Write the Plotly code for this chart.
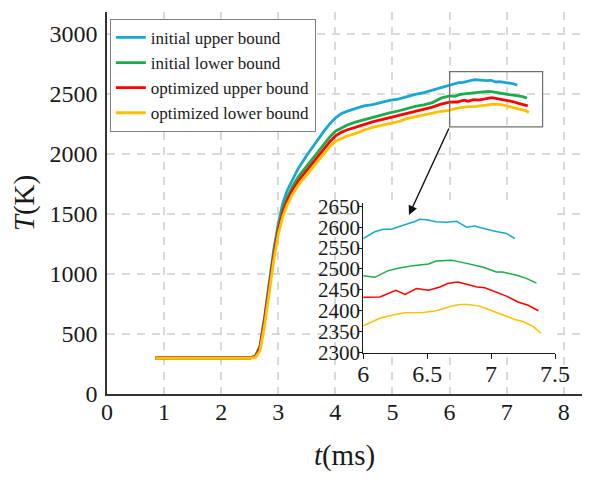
import plotly.graph_objects as go

# ---------------- data ----------------
series_names = ["initial upper bound", "initial lower bound",
                "optimized upper bound", "optimized lower bound"]
series_colors = ["#1AA8D0", "#1AAD4B", "#FF0000", "#FFC000"]

t_common = [0.85, 2.0, 2.5, 2.6, 2.68, 2.76, 2.84, 2.92, 3.0, 3.08, 3.16, 3.25,
            3.35, 3.5, 3.6, 3.7, 3.8, 3.9, 4.0, 4.1, 4.2, 4.35, 4.5, 4.65,
            4.8, 4.95, 5.1, 5.25, 5.4, 5.55, 5.7, 5.85]

init_upper_T_early = [300, 300, 302, 318, 400, 640, 930, 1200, 1420, 1590, 1700, 1790,
                      1880, 1990, 2060, 2125, 2190, 2250, 2300, 2335, 2355, 2378, 2400, 2412,
                      2432, 2446, 2458, 2480, 2497, 2512, 2532, 2555]
init_lower_T_early = [300, 300, 300, 314, 390, 620, 900, 1170, 1385, 1540, 1640, 1730,
                      1810, 1900, 1960, 2020, 2080, 2140, 2190, 2215, 2240, 2265, 2285, 2305,
                      2325, 2342, 2358, 2380, 2396, 2410, 2428, 2465]
opt_upper_T_early = [300, 300, 300, 312, 385, 610, 890, 1150, 1365, 1515, 1615, 1700,
                     1775, 1865, 1925, 1980, 2045, 2100, 2150, 2180, 2200, 2225, 2245, 2268,
                     2285, 2300, 2318, 2340, 2355, 2368, 2390, 2415]
opt_lower_T_early = [298, 298, 298, 305, 360, 570, 850, 1110, 1330, 1480, 1580, 1665,
                     1740, 1830, 1890, 1945, 2005, 2060, 2105, 2130, 2150, 2170, 2200, 2222,
                     2238, 2250, 2270, 2295, 2312, 2325, 2340, 2355]

# late part (t >= 6)
init_upper_t_late = [6.0, 6.09, 6.156, 6.22, 6.29, 6.365, 6.40, 6.44, 6.495, 6.57, 6.65,
                     6.73, 6.77, 6.81, 6.87, 6.94, 7.02, 7.12, 7.185]
init_upper_T_late = [2573, 2589, 2595, 2595, 2603, 2610, 2613, 2619, 2618, 2613, 2612,
                     2614, 2607, 2600, 2603, 2597, 2591, 2585, 2573]

init_lower_t_late = [6.0, 6.09, 6.195, 6.29, 6.39, 6.51, 6.57, 6.69, 6.755, 6.86, 6.94,
                     7.04, 7.09, 7.2, 7.28, 7.355]
init_lower_T_late = [2484, 2480, 2496, 2503, 2508, 2512, 2519, 2521, 2517, 2509, 2504,
                     2493, 2493, 2485, 2477, 2466]

opt_upper_t_late = [6.0, 6.13, 6.255, 6.326, 6.417, 6.51, 6.6, 6.66, 6.74, 6.81, 6.89,
                    6.95, 7.04, 7.12, 7.21, 7.29, 7.37]
opt_upper_T_late = [2432, 2433, 2449, 2439, 2453, 2449, 2457, 2465, 2469, 2464, 2457,
                    2455, 2445, 2435, 2421, 2413, 2400]

opt_lower_t_late = [6.0, 6.13, 6.23, 6.326, 6.47, 6.57, 6.68, 6.755, 6.82, 6.91, 6.98,
                    7.07, 7.12, 7.185, 7.25, 7.33, 7.39]
opt_lower_T_late = [2364, 2382, 2390, 2395, 2396, 2400, 2410, 2415, 2415, 2411, 2403,
                    2392, 2387, 2379, 2374, 2362, 2346]

x_ticks_main = [0, 1, 2, 3, 4, 5, 6, 7, 8]
y_ticks_main = [0, 500, 1000, 1500, 2000, 2500, 3000]
x_ticks_inset = [6, 6.5, 7, 7.5]
y_ticks_inset = [2300, 2350, 2400, 2450, 2500, 2550, 2600, 2650]

ZOOM_BOX = dict(x0=6.0, x1=7.63, y0=2225, y1=2686)
ARROW_TIP = (5.29, 1492)

# ---------------- figure ----------------
series_t = [
    t_common + init_upper_t_late,
    t_common + init_lower_t_late,
    t_common + opt_upper_t_late,
    t_common + opt_lower_t_late,
]
series_T = [
    init_upper_T_early + init_upper_T_late,
    init_lower_T_early + init_lower_T_late,
    opt_upper_T_early + opt_upper_T_late,
    opt_lower_T_early + opt_lower_T_late,
]

FONT = "Liberation Serif"
fig = go.Figure()
for name, col, tt, TT in zip(series_names, series_colors, series_t, series_T):
    fig.add_trace(go.Scatter(x=tt, y=TT, mode="lines", name=name,
                             line=dict(color=col, width=2.8),
                             xaxis="x", yaxis="y"))
for name, col, tt, TT in zip(series_names, series_colors, series_t, series_T):
    fig.add_trace(go.Scatter(x=tt, y=TT, mode="lines", name=name, showlegend=False,
                             line=dict(color=col, width=1.5),
                             xaxis="x2", yaxis="y2"))

grid = dict(showgrid=True, gridcolor="#d9d9d9", gridwidth=1.5, griddash="8px,7px")

# page body adds an 8px offset; figure is sized to compensate
fig.update_layout(
    width=588, height=471,
    margin=dict(l=99, r=14, t=4, b=85, autoexpand=False),
    paper_bgcolor="white", plot_bgcolor="white",
    font=dict(family=FONT, size=24, color="#1a1a1a"),
    showlegend=True,
    legend=dict(x=0.006, y=0.982, xanchor="left", yanchor="top",
                bgcolor="white", bordercolor="#808080", borderwidth=1,
                font=dict(family=FONT, size=17, color="#1a1a1a"),
                tracegroupgap=0, itemwidth=30),
    xaxis=dict(domain=[0, 1], range=[0, 8.32], tickvals=x_ticks_main,
               showline=True, linecolor="#333333", linewidth=1.5, automargin=False,
               zeroline=False, ticks="", ticklabelstandoff=-5,
               title=dict(text="<i>t</i>(ms)", standoff=21), **grid),
    yaxis=dict(domain=[0, 1], range=[0, 3183], tickvals=y_ticks_main,
               showline=True, linecolor="#333333", linewidth=1.5, automargin=False,
               zeroline=False, ticks="", ticklabelstandoff=3,
               title=dict(text="<i>T</i>(K)", standoff=15), **grid),
    xaxis2=dict(domain=[0.5396, 0.9432], range=[6, 7.5], tickvals=x_ticks_inset,
                ticktext=["6", "6.5", "7", "7.5"], automargin=False,
                anchor="y2", showgrid=False, zeroline=False,
                showline=True, linecolor="#1a1a1a", linewidth=1.2,
                ticks="outside", ticklen=5, tickcolor="#1a1a1a",
                ticklabelstandoff=-6),
    yaxis2=dict(domain=[0.1065, 0.5], range=[2298, 2658], tickvals=y_ticks_inset,
                anchor="x2", showgrid=False, zeroline=False, automargin=False,
                showline=True, linecolor="#1a1a1a", linewidth=1.2,
                ticks="outside", ticklen=3, tickcolor="#1a1a1a",
                tickfont=dict(size=21), ticklabelstandoff=-5),
)

fig.add_shape(type="rect", xref="x", yref="y", **ZOOM_BOX,
              line=dict(color="#707070", width=1.2), layer="above")

fig.add_annotation(x=ARROW_TIP[0], y=ARROW_TIP[1], xref="x", yref="y",
                   ax=ZOOM_BOX["x0"], ay=ZOOM_BOX["y0"], axref="x", ayref="y",
                   text="", showarrow=True, arrowhead=2, arrowsize=1.3,
                   arrowwidth=1.4, arrowcolor="#111111")

fig.write_html("out.html")
